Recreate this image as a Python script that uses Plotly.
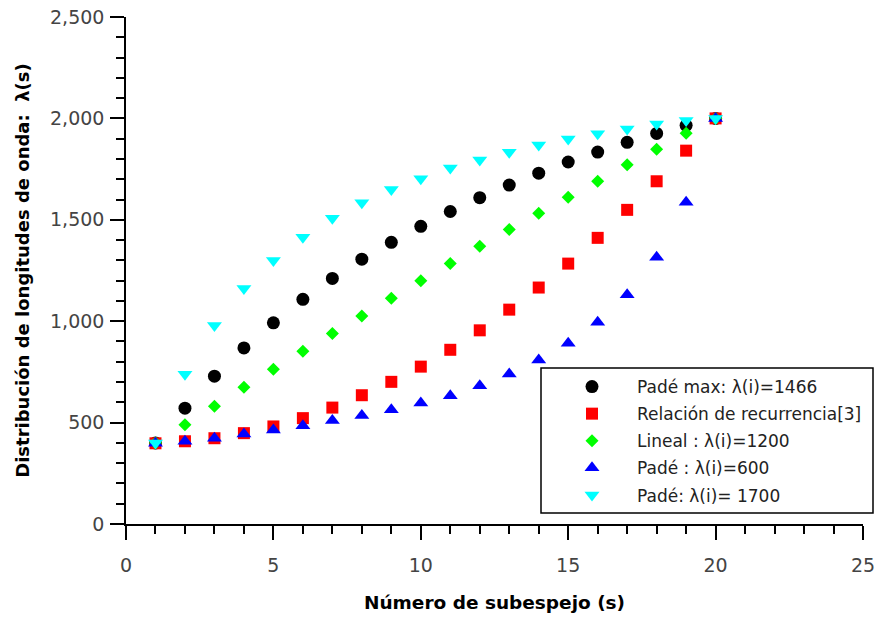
import plotly.graph_objects as go

subespejo = list(range(1, 21))

pade_max = [400, 571, 729, 868, 992, 1108, 1211, 1306, 1389, 1468,
            1541, 1609, 1671, 1730, 1785, 1834, 1882, 1926, 1966, 2000]
recurrencia = [398, 408, 423, 448, 481, 522, 574, 635, 701, 776,
               859, 955, 1057, 1166, 1284, 1411, 1549, 1690, 1841, 2000]
lineal = [400, 489, 581, 674, 763, 852, 939, 1026, 1113, 1199,
          1284, 1369, 1452, 1532, 1611, 1690, 1772, 1848, 1927, 2000]
pade_600 = [398, 408, 423, 444, 464, 485, 510, 535, 563, 597,
            633, 682, 740, 809, 891, 995, 1131, 1315, 1586, 2000]
pade_1700 = [400, 738, 979, 1161, 1299, 1414, 1508, 1584, 1649, 1703,
             1756, 1795, 1833, 1869, 1899, 1924, 1948, 1973, 1990, 2000]

series = [
    ("Padé max: λ(i)=1466", pade_max, "circle", "#000000", 13),
    ("Relación de recurrencia[3]", recurrencia, "square", "#ff0000", 12),
    ("Lineal : λ(i)=1200", lineal, "diamond", "#00ff00", 10),
    ("Padé : λ(i)=600", pade_600, "triangle-up", "#0000ff", 13),
    ("Padé: λ(i)= 1700", pade_1700, "triangle-down", "#00ffff", 13),
]

fig = go.Figure()
for i, (name, vals, sym, col, sz) in enumerate(series):
    fig.add_trace(go.Scatter(
        x=subespejo, y=vals, mode="markers", name=name,
        legendgroup=str(i),
        marker=dict(symbol=sym, color=col, size=sz, line=dict(width=0)),
    ))

W, H = 881, 619
L, R, T, B = 126, 18, 17, 95
pw, ph = W - L - R, H - T - B

def px2paper_x(px):
    return (px - L) / pw

def px2paper_y(py):
    return (H - B - py) / ph

fig.add_shape(type="rect", xref="paper", yref="paper",
              x0=px2paper_x(541), x1=px2paper_x(873),
              y0=px2paper_y(513), y1=px2paper_y(368),
              line=dict(color="#000000", width=1.5), fillcolor="white", layer="below")

axis_font = dict(family="DejaVu Sans", size=19, color="#444444")

fig.update_layout(
    width=W, height=H,
    margin=dict(l=L, r=R, t=T, b=B, pad=0, autoexpand=False),
    paper_bgcolor="white", plot_bgcolor="white",
    showlegend=True,
    legend=dict(
        x=px2paper_x(547), y=px2paper_y(369), xanchor="left", yanchor="top",
        bgcolor="rgba(0,0,0,0)", borderwidth=0,
        font=dict(family="DejaVu Sans", size=17, color="#222222"),
        itemwidth=80, tracegroupgap=2, traceorder="grouped",
    ),
    separators=".,",
)

fig.update_xaxes(
    range=[0, 25], dtick=5, tick0=0, automargin=False,
    showline=True, linecolor="#000000", linewidth=1.5,
    ticks="outside", ticklen=14, tickwidth=1.5, tickcolor="#000000",
    minor=dict(dtick=1, ticks="outside", ticklen=8, tickwidth=1.5, tickcolor="#000000"),
    showgrid=False, zeroline=False,
    tickfont=axis_font, ticklabelstandoff=9,
    title=dict(text="Número de subespejo (s)",
               font=dict(family="DejaVu Sans", size=18.5, color="#000000", weight="bold"),
               standoff=22),
)
fig.update_yaxes(
    range=[0, 2500], dtick=500, tick0=0, tickformat=",d", automargin=False,
    showline=True, linecolor="#000000", linewidth=1.5,
    ticks="outside", ticklen=14, tickwidth=1.5, tickcolor="#000000",
    minor=dict(dtick=100, ticks="outside", ticklen=8, tickwidth=1.5, tickcolor="#000000"),
    showgrid=False, zeroline=False,
    tickfont=axis_font, ticklabelstandoff=2,
    title=dict(text="Distribución de longitudes de onda:  λ(s)",
               font=dict(family="DejaVu Sans", size=18, color="#000000", weight="bold"),
               standoff=16),
)

fig.write_html("out.html")
